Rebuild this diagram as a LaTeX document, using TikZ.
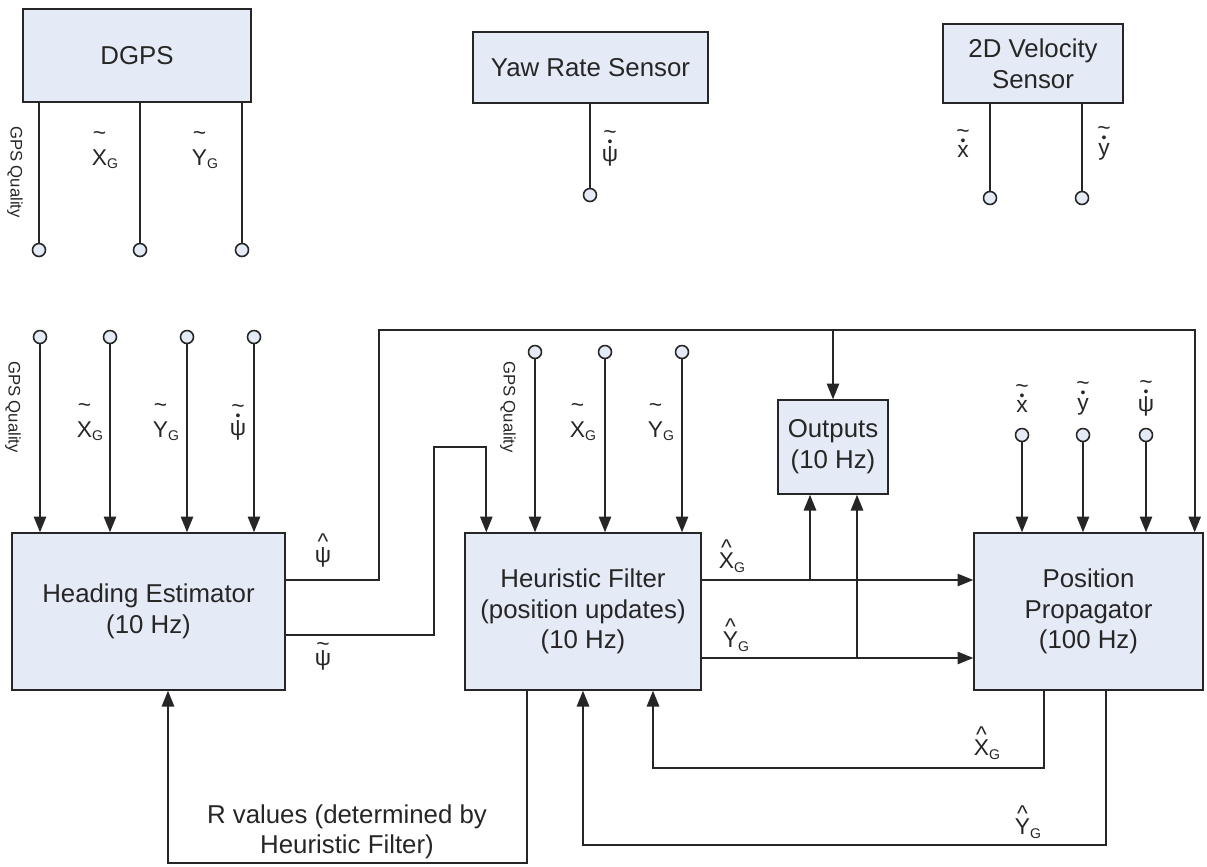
\documentclass[tikz,border=0pt]{standalone}
\usepackage{fontspec}
\setmainfont{Liberation Sans}
\usetikzlibrary{arrows.meta}
\definecolor{boxfill}{RGB}{229,235,246}
\definecolor{ink}{RGB}{38,38,38}
\newcommand{\acctil}{\raisebox{-0.27em}[0.15em][0pt]{\textasciitilde}}
\newcommand{\acchat}{\raisebox{-0.33em}[0.38em][0pt]{\textasciicircum}}
\newcommand{\accdot}{{\fontsize{8}{8}\selectfont\raisebox{-0.23em}[0.35em][0pt]{\textbullet}}}
\newcommand{\tilsym}[3][5.5pt]{\shortstack{\acctil\\[#1]#2}\raisebox{-0.3ex}{\fontsize{8}{9}\selectfont #3}}
\newcommand{\hatsym}[2]{\shortstack{\acchat\\[0pt]#1}\raisebox{-0.3ex}{\fontsize{8}{9}\selectfont #2}}
\newcommand{\dotsym}[1]{\shortstack{\acctil\\[0pt]\accdot\\[-1pt]#1}}
\begin{document}
\begin{tikzpicture}[x=0.02cm, y=-0.02cm, >={Triangle[width=7pt,length=9pt]},
    blk/.style={draw=ink, fill=boxfill, line width=0.8pt, align=center, text=ink,
      font=\fontsize{14.7}{17.5}\selectfont, inner sep=0pt},
    port/.style={circle, draw=ink, fill=boxfill, line width=0.9pt, minimum size=0.26cm, inner sep=0pt},
    wire/.style={draw=ink, line width=1.1pt},
    lbl/.style={text=ink, font=\fontsize{13}{15}\selectfont, inner sep=0pt},
    qual/.style={text=ink, rotate=-90, font=\fontsize{9.5}{11}\selectfont, inner sep=0pt}]
    \useasboundingbox (0,0) rectangle (1207,866);
    \node[blk, minimum width=4.56cm, minimum height=1.86cm] (dgps) at (137,55.5) {DGPS};
    \node[blk, minimum width=4.7cm, minimum height=1.42cm] (yaw) at (590.5,67.5) {Yaw Rate Sensor};
    \node[blk, minimum width=3.6cm, minimum height=1.58cm] (vel) at (1033,63.5) {2D Velocity\\Sensor};
    \node[blk, minimum width=5.46cm, minimum height=3.14cm] (head) at (148.5,611.5) {Heading Estimator\\(10 Hz)};
    \node[blk, minimum width=4.72cm, minimum height=3.14cm] (filt) at (583,611.5) {Heuristic Filter\\(position updates)\\(10 Hz)};
    \node[blk, minimum width=4.58cm, minimum height=3.14cm] (prop) at (1088.5,611.5) {Position\\Propagator\\(100 Hz)};
    \node[blk, minimum width=2.2cm, minimum height=1.88cm] (outp) at (833,447) {Outputs\\(10 Hz)};

    \node[port] (dgq) at (39,250) {};
    \node[port] (dgx) at (140,250) {};
    \node[port] (dgy) at (242,250) {};
    \node[port] (yr) at (590,195) {};
    \node[port] (vx) at (990,198) {};
    \node[port] (vy) at (1082,198) {};
    \node[port] (hq) at (40,337) {};
    \node[port] (hx) at (110,337) {};
    \node[port] (hy) at (187,337) {};
    \node[port] (hr) at (254,337) {};
    \node[port] (fq) at (535,352) {};
    \node[port] (fx) at (605,352) {};
    \node[port] (fy) at (682,352) {};
    \node[port] (px) at (1022,435) {};
    \node[port] (py) at (1083,435) {};
    \node[port] (pr) at (1146,435) {};

    \draw[wire] (dgps.south -| dgq) -- (dgq);
    \draw[wire] (dgps.south -| dgx) -- (dgx);
    \draw[wire] (dgps.south -| dgy) -- (dgy);
    \draw[wire] (yaw.south -| yr) -- (yr);
    \draw[wire] (vel.south -| vx) -- (vx);
    \draw[wire] (vel.south -| vy) -- (vy);
    \draw[wire,->] (hq) -- (hq |- head.north);
    \draw[wire,->] (hx) -- (hx |- head.north);
    \draw[wire,->] (hy) -- (hy |- head.north);
    \draw[wire,->] (hr) -- (hr |- head.north);
    \draw[wire,->] (fq) -- (fq |- filt.north);
    \draw[wire,->] (fx) -- (fx |- filt.north);
    \draw[wire,->] (fy) -- (fy |- filt.north);
    \draw[wire,->] (px) -- (px |- prop.north);
    \draw[wire,->] (py) -- (py |- prop.north);
    \draw[wire,->] (pr) -- (pr |- prop.north);

    \draw[wire,->] ([yshift=0.63cm]head.east) -| (379,330) -| ([xshift=-0.18cm]prop.north east);
    \draw[wire,->] (outp.north |- 0,330) -- (outp.north);
    \draw[wire,->] ([yshift=-0.47cm]head.east) -| (434,447) -| ([xshift=0.44cm]filt.north west);
    \draw[wire,->] ([yshift=0.63cm]filt.east) -- ([yshift=0.63cm]prop.west);
    \draw[wire,->] ([yshift=-0.93cm]filt.east) -- ([yshift=-0.93cm]prop.west);
    \draw[wire,->] (810,580) -- (outp.south -| 810,0);
    \draw[wire,->] (857,658) -- (outp.south -| 857,0);
    \draw[wire,->] ([xshift=1.42cm]prop.south west) |- (653,768) -- (filt.south -| 653,0);
    \draw[wire,->] ([xshift=2.66cm]prop.south west) |- (583,845) -- (filt.south -| 583,0);
    \draw[wire,->] ([xshift=1.26cm]filt.south west) |- (168,863) -- (head.south -| 168,0);

    \node[qual] (q1) at (15,172) {GPS Quality};
    \node[qual] (q2) at (13,407) {GPS Quality};
    \node[qual] (q3) at (508,407) {GPS Quality};
    \node[lbl] (l1) at (105,150) {\tilsym{X}{G}};
    \node[lbl] (l2) at (205,150) {\tilsym{Y}{G}};
    \node[lbl] (l3) at (610,148) {\dotsym{ψ}};
    \node[lbl] (l4) at (963,143) {\dotsym{x}};
    \node[lbl] (l5) at (1104,143) {\dotsym{y}};
    \node[lbl] (l6) at (90,422) {\tilsym{X}{G}};
    \node[lbl] (l7) at (166,422) {\tilsym{Y}{G}};
    \node[lbl] (l8) at (238,422) {\dotsym{ψ}};
    \node[lbl] (l9) at (583,422) {\tilsym{X}{G}};
    \node[lbl] (l10) at (661,422) {\tilsym{Y}{G}};
    \node[lbl] (l11) at (1022,398) {\dotsym{x}};
    \node[lbl] (l12) at (1083,398) {\dotsym{y}};
    \node[lbl] (l13) at (1146,398) {\dotsym{ψ}};
    \node[lbl] (l14) at (323,550) {\hatsym{ψ}{}};
    \node[lbl] (l15) at (323,656) {\tilsym[0pt]{ψ}{}};
    \node[lbl] (l16) at (732,556) {\hatsym{X}{G}};
    \node[lbl] (l17) at (736,635) {\hatsym{Y}{G}};
    \node[lbl] (l18) at (987,743) {\hatsym{X}{G}};
    \node[lbl] (l19) at (1028,822) {\hatsym{Y}{G}};
    \node[lbl, align=center, font=\fontsize{14.7}{17}\selectfont] (rv) at (347,832) {R values (determined by\\Heuristic Filter)};
\end{tikzpicture}
\end{document}
